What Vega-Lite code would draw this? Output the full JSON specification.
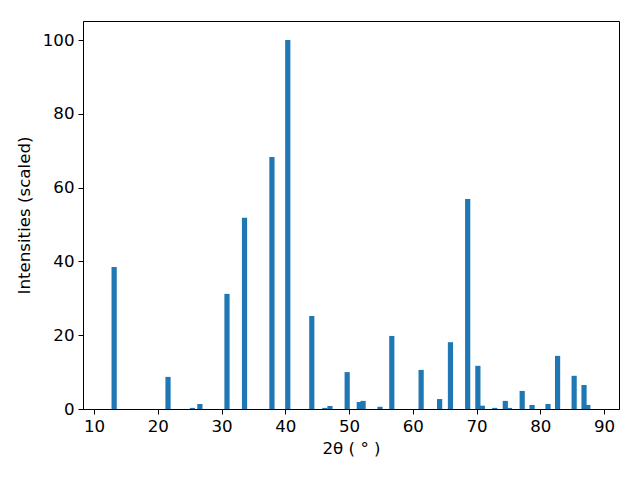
{
  "$schema": "https://vega.github.io/schema/vega-lite/v6.json",
  "autosize": "none",
  "width": 536,
  "height": 388,
  "padding": {"left": 83, "top": 21, "right": 21, "bottom": 71},
  "background": "white",
  "config": {
    "view": {"stroke": "black", "strokeWidth": 1},
    "font": "DejaVu Sans",
    "axis": {
      "grid": false,
      "domainColor": "black",
      "tickColor": "black",
      "tickSize": 5,
      "labelColor": "black",
      "titleColor": "black",
      "labelFont": "DejaVu Sans",
      "titleFont": "DejaVu Sans",
      "labelFontSize": 16.67,
      "titleFontSize": 16.67,
      "titleFontWeight": "normal",
      "labelPadding": 4
    }
  },
  "data": {
    "values": [
      {"t": 13.15, "i": 38.5},
      {"t": 21.6, "i": 8.7},
      {"t": 25.43, "i": 0.3},
      {"t": 26.6, "i": 1.35},
      {"t": 30.85, "i": 31.2},
      {"t": 33.6, "i": 51.8},
      {"t": 37.9, "i": 68.3},
      {"t": 40.38, "i": 100},
      {"t": 44.15, "i": 25.2},
      {"t": 46.2, "i": 0.3},
      {"t": 47.0, "i": 0.8},
      {"t": 49.7, "i": 10.0},
      {"t": 51.6, "i": 1.9},
      {"t": 52.2, "i": 2.2},
      {"t": 54.85, "i": 0.6},
      {"t": 56.7, "i": 19.8},
      {"t": 61.3, "i": 10.6},
      {"t": 64.2, "i": 2.7},
      {"t": 65.9, "i": 18.1},
      {"t": 68.6, "i": 56.9},
      {"t": 70.2, "i": 11.7},
      {"t": 70.9, "i": 0.9},
      {"t": 72.85, "i": 0.3},
      {"t": 74.5, "i": 2.2},
      {"t": 75.15, "i": 0.3},
      {"t": 77.15, "i": 4.9},
      {"t": 78.7, "i": 1.1},
      {"t": 81.2, "i": 1.35},
      {"t": 82.7, "i": 14.4},
      {"t": 85.3, "i": 9.0},
      {"t": 86.85, "i": 6.5},
      {"t": 87.45, "i": 1.1}
    ]
  },
  "mark": {"type": "bar", "color": "#1f77b4", "size": 5.2, "clip": true},
  "encoding": {
    "x": {
      "field": "t",
      "type": "quantitative",
      "title": "2θ ( ° )",
      "scale": {"domain": [9.05, 91.55], "nice": false, "zero": false},
      "axis": {"values": [10, 20, 30, 40, 50, 60, 70, 80, 90], "titlePadding": 6}
    },
    "y": {
      "field": "i",
      "type": "quantitative",
      "title": "Intensities (scaled)",
      "scale": {"domain": [0, 105.15], "nice": false},
      "axis": {"values": [0, 20, 40, 60, 80, 100], "titlePadding": 9}
    }
  }
}
